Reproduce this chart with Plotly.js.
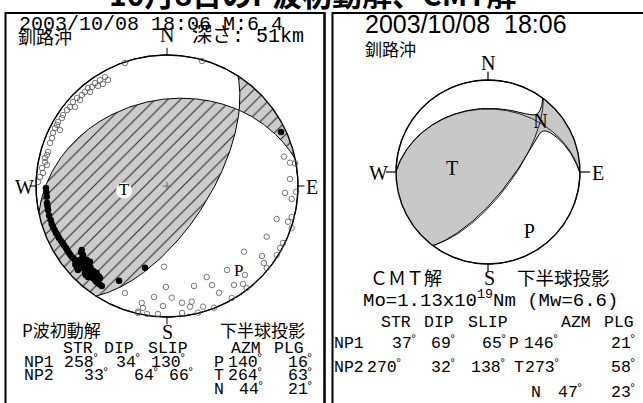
<!DOCTYPE html>
<html><head><meta charset="utf-8">
<script src="https://cdn.plot.ly/plotly-3.0.1.min.js"></script>
<style>html,body{margin:0;padding:0;background:#fff}</style>
</head><body><div id="chart" style="width:643px;height:403px"></div>
<script>
// ================= DATA =================
const pageTitle = "10月8日のP波初動解、CMT解";
const leftDate = "2003/10/08 18:06 M:6.4";
const regionName = "釧路沖";
const depthLabel = "深さ: 51km";
const leftMethod = "P波初動解";
const projLabel = "下半球投影";
const rightDate = "2003/10/08  18:06";
const rightMethod = "ＣＭＴ解";
const momentLabel = "Mo=1.13x10<sup>19</sup>Nm (Mw=6.6)";
const tableHeader = ["STR", "DIP", "SLIP", "AZM", "PLG"];
const planeNames = ["NP1", "NP2"];
const axisNames = ["P", "T", "N"];
const dirNames = ["N", "S", "W", "E"];

// P-wave first-motion solution
const fmStrike = [258, 33];
const fmDip = [34, 64];
const fmSlip = [130, 66];
const fmAxisAzm = [140, 264, 44];   // P, T, N
const fmAxisPlg = [16, 63, 21];

// CMT solution
const cmtStrike = [37, 270];
const cmtDip = [69, 32];
const cmtSlip = [65, 138];
const cmtAxisAzm = [146, 273, 47];  // P, T, N
const cmtAxisPlg = [21, 58, 23];
const cmtEigen = [1.0, 0.015, -1.015]; // relative T, N, P eigenvalues

// station polarities (projected, unit circle; x = east, y = north)
const compX = [-0.924,-0.918,-0.916,-0.908,-0.888,-0.870,-0.847,-0.824,-0.796,-0.771,-0.748,-0.727,-0.702,-0.679,-0.651,-0.626,-0.603,-0.575,-0.550,-0.527,-0.498,
  -0.651,-0.641,-0.613,-0.588,-0.679,-0.626,-0.575,-0.537,-0.511,-0.565,-0.603,-0.664,-0.689,-0.613,-0.168,-0.366,0.870,
  -0.921,-0.912,-0.900,-0.880,-0.858,-0.835,-0.810,-0.785,-0.760,-0.737,-0.714,-0.690,-0.665,-0.640,-0.615,-0.590,-0.562,-0.540,-0.515,
  -0.655,-0.645,-0.630,-0.600,-0.585,-0.560,-0.545,-0.520,-0.595,-0.620,-0.650,-0.668,-0.700];
const compY = [-0.015,-0.082,-0.130,-0.183,-0.260,-0.313,-0.359,-0.397,-0.435,-0.473,-0.511,-0.540,-0.565,-0.588,-0.616,-0.641,-0.664,-0.692,-0.718,-0.740,-0.763,
  -0.489,-0.527,-0.565,-0.578,-0.641,-0.664,-0.641,-0.664,-0.702,-0.702,-0.695,-0.565,-0.616,-0.616,-0.624,-0.723,0.412,
  -0.050,-0.155,-0.225,-0.290,-0.335,-0.378,-0.418,-0.455,-0.493,-0.525,-0.553,-0.578,-0.603,-0.628,-0.653,-0.680,-0.705,-0.730,-0.750,
  -0.505,-0.545,-0.590,-0.600,-0.620,-0.650,-0.685,-0.690,-0.660,-0.680,-0.590,-0.600,-0.600];
const dilX = [-0.473,-0.511,-0.550,-0.573,-0.603,-0.626,-0.649,-0.687,-0.718,-0.740,-0.763,-0.794,-0.802,-0.832,-0.840,-0.855,-0.870,-0.878,-0.893,-0.908,-0.916,-0.931,-0.931,-0.916,-0.954,-0.947,-0.969,-0.985,
  -0.450,-0.489,-0.527,-0.588,-0.664,-0.702,-0.817,-0.321,0.267,
  0.939,0.977,0.893,0.939,0.985,0.901,0.952,0.837,0.924,0.952,0.952,0.761,0.885,0.863,0.837,0.588,0.725,0.740,0.761,0.458,0.595,-0.023,0.303,0.511,0.580,0.608,-0.008,0.206,0.344,
  -0.321,-0.099,0.036,0.397,0.494,0.189,0.115,-0.031,0.176,0.275,0.359,-0.193,-0.183,-0.221,-0.153,-0.069,0.115,0.237,-0.220];
const dilY = [0.832,0.809,0.786,0.756,0.748,0.718,0.695,0.672,0.641,0.603,0.580,0.542,0.519,0.489,0.466,0.443,0.405,0.366,0.328,0.260,0.237,0.214,0.183,0.160,0.137,0.099,0.069,0.031,
  0.809,0.779,0.763,0.718,0.656,0.603,0.427,0.939,0.954,
  0.178,0.173,0.224,0.053,-0.044,-0.053,-0.099,-0.252,-0.273,-0.237,-0.321,-0.387,-0.435,-0.473,-0.527,-0.502,-0.534,-0.588,-0.626,-0.641,-0.679,-0.616,-0.695,-0.756,-0.748,-0.779,-0.771,-0.763,-0.756,
  -0.817,-0.847,-0.853,-0.815,-0.855,-0.883,-0.891,-0.916,-0.921,-0.921,-0.929,-0.893,-0.931,-0.960,-0.977,-0.977,-0.969,-0.967,-0.970];

// ================= GEOMETRY =================
const D2R = Math.PI / 180;
const W = 643, H = 403;
function vec(az, pl) { const a = az * D2R, p = pl * D2R; return [Math.sin(a) * Math.cos(p), Math.cos(a) * Math.cos(p), Math.sin(p)]; }
function dot(a, b) { return a[0] * b[0] + a[1] * b[1] + a[2] * b[2]; }
function norm(v) { const n = Math.hypot(v[0], v[1], v[2]); return [v[0] / n, v[1] / n, v[2] / n]; }
function cross(a, b) { return [a[1] * b[2] - a[2] * b[1], a[2] * b[0] - a[0] * b[2], a[0] * b[1] - a[1] * b[0]]; }
function proj(v) { let [x, y, z] = v; if (z < 0) { x = -x; y = -y; z = -z; } const s = 1 / Math.sqrt(1 + z); return [x * s, y * s]; }

function principal(azm, plg) {
  const P = norm(vec(azm[0], plg[0]));
  let T = vec(azm[1], plg[1]);
  const d = dot(T, P);
  T = norm([T[0] - d * P[0], T[1] - d * P[1], T[2] - d * P[2]]);
  const N = norm(cross(T, P));
  return [T, N, P];
}
function horiz(a, b) {
  const f = a[2] / (a[2] - b[2]);
  const v = [a[0] + f * (b[0] - a[0]), a[1] + f * (b[1] - a[1]), 0];
  const h = Math.hypot(v[0], v[1]);
  return [v[0] / h, v[1] / h, 0];
}
function primArc(a, b, axis, rad) {
  const aa = Math.atan2(a[0], a[1]), bb = Math.atan2(b[0], b[1]);
  let d = ((bb - aa) % (2 * Math.PI) + 2 * Math.PI) % (2 * Math.PI);
  const mid = aa + d / 2, m = [Math.sin(mid), Math.cos(mid), 0];
  if (!(rad(m) < 0 && dot(m, axis) > 0)) d = d - 2 * Math.PI;
  const pts = [], K = Math.max(2, Math.ceil(Math.abs(d) / 0.01));
  for (let i = 1; i < K; i++) { const az = aa + d * i / K; pts.push([Math.sin(az), Math.cos(az)]); }
  return pts;
}
function clipLoop(loop, axis, rad) {
  const n = loop.length; let start = -1;
  for (let i = 0; i < n; i++) if (loop[i][2] > 0) { start = i; break; }
  if (start < 0) return null;
  const out = []; let exitV = null;
  for (let j = 0; j <= n; j++) {
    const cur = loop[(start + j) % n];
    if (j > 0) {
      const prev = loop[(start + j - 1) % n];
      if (prev[2] >= 0 && cur[2] < 0) { const e = horiz(prev, cur); out.push([e[0], e[1]]); exitV = e; }
      else if (prev[2] < 0 && cur[2] >= 0) { const e = horiz(prev, cur); out.push(...primArc(exitV, e, axis, rad)); out.push([e[0], e[1]]); }
    }
    if (cur[2] >= 0) out.push(proj(cur));
  }
  return out;
}
function negativeRegions(axes, lam) {
  const [T, N, P] = axes;
  const rad = m => lam[0] * dot(m, T) ** 2 + lam[1] * dot(m, N) ** 2 + lam[2] * dot(m, P) ** 2;
  const polys = [];
  for (const sg of [1, -1]) {
    const loop = [], M = 2000;
    for (let i = 0; i < M; i++) {
      const t = 2 * Math.PI * i / M, c = Math.cos(t), s = Math.sin(t);
      const k = Math.sqrt(Math.max(0, (lam[0] * c * c + lam[1] * s * s) / (-lam[2])));
      loop.push(norm([0, 1, 2].map(j => sg * (c * T[j] + s * N[j] + k * P[j]))));
    }
    const poly = clipLoop(loop, P.map(c => sg * c), rad);
    if (poly) polys.push(poly);
  }
  return polys;
}
function planeArc(strike, dip) {
  const s = strike * D2R, d = dip * D2R;
  const sv = [Math.sin(s), Math.cos(s), 0];
  const dv = [Math.sin(s + Math.PI / 2) * Math.cos(d), Math.cos(s + Math.PI / 2) * Math.cos(d), Math.sin(d)];
  const xs = [], ys = [];
  for (let i = 0; i <= 360; i++) {
    const t = Math.PI * i / 360;
    const p = proj([0, 1, 2].map(j => Math.cos(t) * sv[j] + Math.sin(t) * dv[j]));
    xs.push(p[0]); ys.push(p[1]);
  }
  return [xs, ys];
}
function axisPt(az, pl) { return proj(vec(az, pl)); }

const circX = [], circY = [];
for (let i = 0; i <= 720; i++) { const a = 2 * Math.PI * i / 720; circX.push(Math.sin(a)); circY.push(Math.cos(a)); }

// ================= TRACES =================
const traces = [];
function polyTrace(poly, xa, ya, color, lw) {
  return { x: poly.map(p => p[0]), y: poly.map(p => p[1]), xaxis: xa, yaxis: ya, mode: 'lines', fill: 'toself',
    fillcolor: color, line: { color: '#000', width: lw }, hoverinfo: 'skip' };
}
// ---- left (first-motion) ----
traces.push({ x: circX, y: circY, xaxis: 'x', yaxis: 'y', mode: 'lines', fill: 'toself', fillcolor: '#cccccc',
  fillpattern: { shape: '/', size: 9, solidity: 0.12, fgcolor: '#2a2a2a', bgcolor: '#cccccc' },
  line: { width: 0, color: '#000' }, hoverinfo: 'skip' });
const fmAxes = principal(fmAxisAzm, fmAxisPlg);
negativeRegions(fmAxes, [1, 0, -1]).forEach(p => traces.push(polyTrace(p, 'x', 'y', '#ffffff', 1)));
traces.push({ x: circX, y: circY, xaxis: 'x', yaxis: 'y', mode: 'lines', line: { color: '#000', width: 1.4 }, hoverinfo: 'skip' });
traces.push({ x: [0, 0, null, 0, 0, null, -1, -1.05, null, 1, 1.05], y: [1, 1.055, null, -1, -1.055, null, 0, 0, null, 0, 0],
  xaxis: 'x', yaxis: 'y', mode: 'lines', line: { color: '#000', width: 1 }, hoverinfo: 'skip' });
traces.push({ x: [0], y: [0], xaxis: 'x', yaxis: 'y', mode: 'markers', marker: { symbol: 'cross-thin', size: 6, line: { color: '#666', width: 1 } }, hoverinfo: 'skip' });
traces.push({ x: dilX, y: dilY, xaxis: 'x', yaxis: 'y', mode: 'markers', marker: { symbol: 'circle-open', size: 5.5, color: '#555', line: { width: 0.8 } }, hoverinfo: 'skip' });
traces.push({ x: compX, y: compY, xaxis: 'x', yaxis: 'y', mode: 'markers', marker: { symbol: 'circle', size: 6.5, color: '#000' }, hoverinfo: 'skip' });
const fmT = axisPt(fmAxisAzm[1], fmAxisPlg[1]);
const fmP = axisPt(fmAxisAzm[0], fmAxisPlg[0]);
traces.push({ x: [fmT[0]], y: [fmT[1]], xaxis: 'x', yaxis: 'y', mode: 'markers+text', text: [axisNames[1]], textposition: 'middle center',
  textfont: { family: 'Liberation Serif, serif', size: 17, color: '#000' }, marker: { size: 16, color: '#fff' }, hoverinfo: 'skip' });
traces.push({ x: [fmP[0]], y: [fmP[1]], xaxis: 'x', yaxis: 'y', mode: 'text', text: [axisNames[0]], textposition: 'middle center',
  textfont: { family: 'Liberation Serif, serif', size: 17, color: '#000' }, hoverinfo: 'skip' });

// ---- right (CMT) ----
traces.push({ x: circX, y: circY, xaxis: 'x2', yaxis: 'y2', mode: 'lines', fill: 'toself', fillcolor: '#c8c8c8', line: { width: 0 }, hoverinfo: 'skip' });
const cmtAxes = principal(cmtAxisAzm, cmtAxisPlg);
negativeRegions(cmtAxes, cmtEigen).forEach(p => traces.push(polyTrace(p, 'x2', 'y2', '#ffffff', 1)));
for (let i = 0; i < 2; i++) {
  const [ax, ay] = planeArc(cmtStrike[i], cmtDip[i]);
  traces.push({ x: ax, y: ay, xaxis: 'x2', yaxis: 'y2', mode: 'lines', line: { color: '#000', width: 0.8 }, hoverinfo: 'skip' });
}
traces.push({ x: circX, y: circY, xaxis: 'x2', yaxis: 'y2', mode: 'lines', line: { color: '#000', width: 1.4 }, hoverinfo: 'skip' });
traces.push({ x: [0, 0, null, 0, 0, null, -1, -1.11, null, 1, 1.11], y: [1, 1.09, null, -1, -1.09, null, 0, 0, null, 0, 0],
  xaxis: 'x2', yaxis: 'y2', mode: 'lines', line: { color: '#000', width: 1.2 }, hoverinfo: 'skip' });
const cmtLab = [0, 1, 2].map(i => axisPt(cmtAxisAzm[i], cmtAxisPlg[i]));
traces.push({ x: cmtLab.map(p => p[0]), y: cmtLab.map(p => p[1]), xaxis: 'x2', yaxis: 'y2', mode: 'text', text: axisNames,
  textposition: 'middle center', textfont: { family: 'Liberation Serif, serif', size: 20, color: '#000' }, hoverinfo: 'skip' });

// ================= TEXT =================
const MONO = 'Liberation Mono, Noto Sans CJK JP, monospace';
const SERIF = 'Liberation Serif, serif';
const CJK = 'Noto Sans CJK JP, sans-serif';
const SANS = 'Liberation Sans, Arial, Noto Sans CJK JP, sans-serif';
function A(text, px, py, size, family, xanchor, extra) {
  return Object.assign({ text: text, x: px / W, y: 1 - py / H, xref: 'paper', yref: 'paper', xanchor: xanchor || 'center',
    yanchor: 'middle', showarrow: false, borderpad: 0, font: { size: size, family: family, color: '#000' } }, extra || {});
}
const ann = [];
const TS = 16.5, CW = TS * 0.6;
// a number cell followed by a small raised degree sign
function degCell(val, px, py) {
  const s = String(val);
  ann.push(A(s, px, py, TS, MONO, 'left'));
  ann.push(A('°', px + s.length * CW - 1.5, py - 3, 12, MONO, 'left'));
}
ann.push(A(pageTitle, 312, 16, 30, CJK, 'center', { yanchor: 'bottom', font: { size: 30, family: CJK, color: '#000', weight: 700 } }));
// left header
ann.push(A(leftDate, 18, 24, 20, MONO, 'left'));
ann.push(A(regionName, 17, 35.5, 18, CJK, 'left'));
ann.push(A(depthLabel, 191, 35.5, 20, MONO, 'left'));
ann.push(A(dirNames[0], 167, 35, 20, SERIF));
ann.push(A(dirNames[1], 167, 332, 20, SERIF));
ann.push(A(dirNames[2], 24, 187, 20, SERIF));
ann.push(A(dirNames[3], 312, 187, 20, SERIF));
ann.push(A(leftMethod, 21, 329, 17, CJK, 'left'));
ann.push(A(projLabel, 219, 329, 17, CJK, 'left'));
// left table
const lHx = [62, 103, 147, 230, 273];
tableHeader.forEach((t, i) => ann.push(A(t, lHx[i], 348, TS, MONO, 'left')));
const lRowX = [[23, 63, 115, 150, 213, 227, 287], [23, 83, 133, 168, 213, 227, 287]];
const lRowY = [362, 375.5];
for (let r = 0; r < 2; r++) {
  const x = lRowX[r], y = lRowY[r];
  ann.push(A(planeNames[r], x[0], y, TS, MONO, 'left'));
  degCell(fmStrike[r], x[1], y); degCell(fmDip[r], x[2], y); degCell(fmSlip[r], x[3], y);
  ann.push(A(axisNames[r], x[4], y, TS, MONO, 'left'));
  degCell(fmAxisAzm[r], x[5], y); degCell(fmAxisPlg[r], x[6], y);
}
ann.push(A(axisNames[2], 213, 389.5, TS, MONO, 'left'));
degCell(fmAxisAzm[2], 238, 389.5); degCell(fmAxisPlg[2], 287, 389.5);

// right header
ann.push(A(rightDate, 364, 24, 25, SANS, 'left'));
ann.push(A(regionName, 364, 48, 17, CJK, 'left'));
ann.push(A(dirNames[0], 488, 63, 20, SERIF));
ann.push(A(dirNames[1], 489, 278, 20, SERIF));
ann.push(A(dirNames[2], 378, 173, 20, SERIF));
ann.push(A(dirNames[3], 598, 173, 20, SERIF));
ann.push(A(rightMethod, 369, 277, 18, CJK, 'left'));
ann.push(A(projLabel, 516, 277, 18.5, CJK, 'left'));
ann.push(A(momentLabel, 362, 299, 19, MONO, 'left'));
const rHx = [380, 423, 467, 560, 603];
tableHeader.forEach((t, i) => ann.push(A(t, rHx[i], 322, TS, MONO, 'left')));
const rRowX = [[333, 391, 430, 481, 508, 523, 610], [333, 366, 430, 470, 513, 524, 610]];
const rRowY = [343, 367];
for (let r = 0; r < 2; r++) {
  const x = rRowX[r], y = rRowY[r];
  ann.push(A(planeNames[r], x[0], y, TS, MONO, 'left'));
  degCell(cmtStrike[r], x[1], y); degCell(cmtDip[r], x[2], y); degCell(cmtSlip[r], x[3], y);
  ann.push(A(axisNames[r], x[4], y, TS, MONO, 'left'));
  degCell(cmtAxisAzm[r], x[5], y); degCell(cmtAxisPlg[r], x[6], y);
}
ann.push(A(axisNames[2], 530, 392, TS, MONO, 'left'));
degCell(cmtAxisAzm[2], 557, 392); degCell(cmtAxisPlg[2], 610, 392);

// ================= FRAMES =================
function L(x0, y0, x1, y1, w) {
  return { type: 'line', xref: 'paper', yref: 'paper', x0: x0 / W, y0: 1 - y0 / H, x1: x1 / W, y1: 1 - y1 / H, line: { color: '#000', width: w } };
}
const shapes = [
  L(5, 13, 325, 13, 2), L(5.5, 12, 5.5, 404, 2), L(324.5, 12, 324.5, 404, 2.5),
  L(332.5, 13, 644, 13, 2), L(332.5, 12, 332.5, 404, 2)
];

const layout = {
  width: W, height: H, margin: { l: 0, r: 0, t: 0, b: 0 }, showlegend: false,
  paper_bgcolor: '#fff', plot_bgcolor: 'rgba(0,0,0,0)',
  xaxis: { domain: [0, 330 / W], range: [(0 - 167) / 131, (330 - 167) / 131], visible: false, fixedrange: true },
  yaxis: { domain: [0, 1], range: [(186 - 403) / 131, 186 / 131], visible: false, fixedrange: true },
  xaxis2: { domain: [330 / W, 1], range: [(330 - 488) / 92, (643 - 488) / 92], visible: false, fixedrange: true, anchor: 'y2' },
  yaxis2: { domain: [0, 1], range: [(172 - 403) / 92, 172 / 92], visible: false, fixedrange: true, anchor: 'x2' },
  annotations: ann, shapes: shapes
};
Plotly.newPlot('chart', traces, layout, { displayModeBar: false, staticPlot: true });
</script></body></html>
